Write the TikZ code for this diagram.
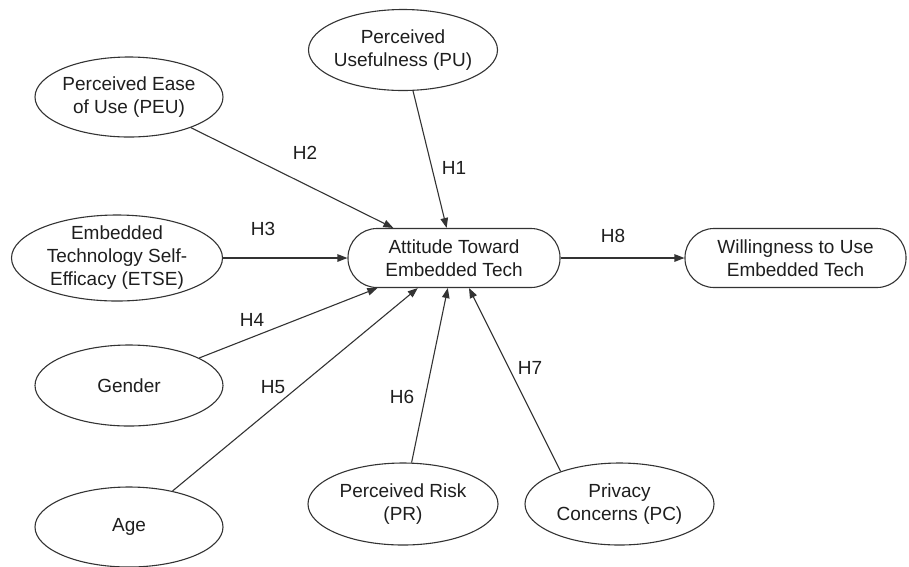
\documentclass[tikz,border=0pt]{standalone}
\usepackage{fontspec}
\setmainfont{Liberation Sans}
\usetikzlibrary{shapes.geometric,arrows.meta}
\definecolor{linec}{HTML}{333333}
\definecolor{txtc}{HTML}{1E1E1E}
\begin{document}
\begin{tikzpicture}[x=1pt,y=-1pt,
  font=\fontsize{19}{23}\selectfont,
  ell/.style 2 args={draw=linec, line width=1.1pt, ellipse, inner sep=0pt, minimum width=#1, minimum height=#2},
  pill/.style={draw=linec, line width=1.1pt, rectangle, rounded corners=29pt, minimum height=59pt, inner sep=0pt, align=center, text=txtc},
  lbl/.style={align=center, text=txtc, inner sep=0pt},
  conn/.style={draw=linec, line width=1.1pt, -{Triangle[length=10pt,width=7.5pt]}},
  hlab/.style={text=txtc, inner sep=0pt}]
\useasboundingbox (0,0) rectangle (909,566);

% ellipses
\node[ell={189pt}{81pt}] (pu) at (403,50) {};
\node[lbl] (put) at (pu) {Perceived\\Usefulness (PU)};
\node[ell={188pt}{80pt}] (peu) at (129,97) {};
\node[lbl] (peut) at (peu) {Perceived Ease\\of Use (PEU)};
\node[ell={211pt}{86pt}] (etse) at (117,258) {};
\node[lbl] (etset) at (etse) {Embedded\\Technology Self-\\Efficacy (ETSE)};
\node[ell={188pt}{81pt}] (gen) at (129,385.5) {};
\node[lbl] (gent) at (gen) {Gender};
\node[ell={188pt}{80pt}] (age) at (129,527) {};
\node[lbl] (aget) at (age) {Age};
\node[ell={190pt}{82pt}] (pr) at (403,504) {};
\node[lbl] (prt) at (pr) {Perceived Risk\\(PR)};
\node[ell={189pt}{82pt}] (pc) at (619.5,504) {};
\node[lbl] (pct) at (pc) {Privacy\\Concerns (PC)};

% rounded boxes
\node[pill, minimum width=212pt] (att) at (454,258) {Attitude Toward\\Embedded Tech};
\node[pill, minimum width=221pt] (will) at (795.5,258) {Willingness to Use\\Embedded Tech};

% connectors
\draw[conn] (pu) -- (att);
\draw[conn] (peu) -- (att);
\draw[conn] (etse.east) -- (att.west);
\draw[conn] (gen) -- (att);
\draw[conn] (age) -- (att);
\draw[conn] (pr) -- (att);
\draw[conn] (pc.151) -- ([xshift=15pt]att.south);
\draw[conn] (att.east) -- (will.west);

% labels
\node[hlab] (h1) at (454,168) {H1};
\node[hlab] (h2) at (305,153) {H2};
\node[hlab] (h3) at (263,229) {H3};
\node[hlab] (h4) at (252,320) {H4};
\node[hlab] (h5) at (273,387) {H5};
\node[hlab] (h6) at (402,397) {H6};
\node[hlab] (h7) at (530,368) {H7};
\node[hlab] (h8) at (613,236) {H8};
\end{tikzpicture}
\end{document}
